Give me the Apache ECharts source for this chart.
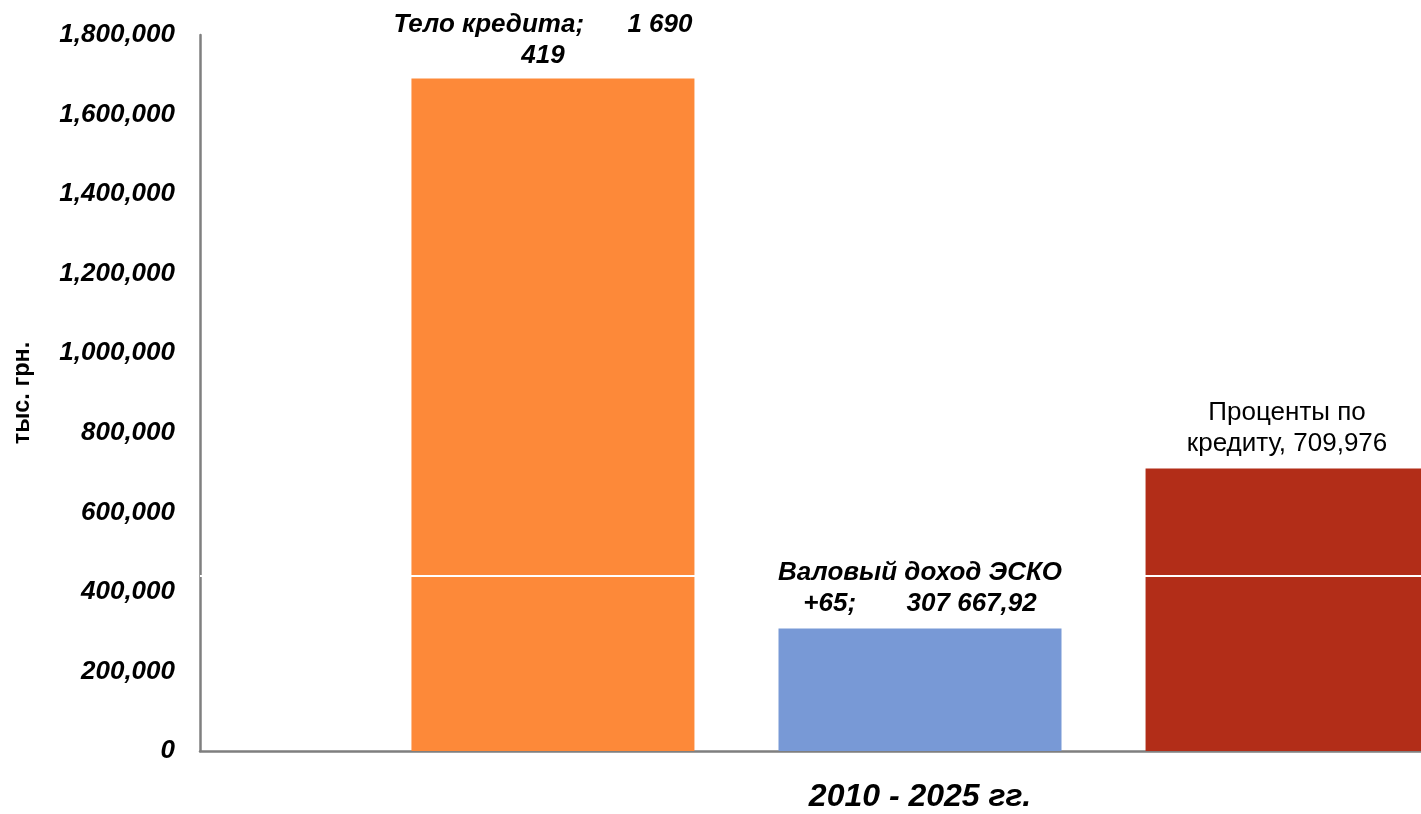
<!DOCTYPE html>
<html>
<head>
<meta charset="utf-8">
<script src="https://cdn.jsdelivr.net/npm/echarts@6/dist/echarts.min.js"></script>
<style>
html,body{margin:0;padding:0;background:#fff;}
#c{width:1421px;height:814px;}
</style>
</head>
<body>
<div id="c"></div>
<script>
const categories = ['2010 - 2025 гг.'];
const seriesNames = ['Тело кредита', 'Валовый доход ЭСКО +65', 'Проценты по кредиту'];
const seriesValues = [1690419, 307667.92, 709976];
const seriesLabels = ['Тело кредита;      1 690\n419', 'Валовый доход ЭСКО\n+65;       307 667,92', 'Проценты по\nкредиту, 709,976'];
const yTicks = [0, 200000, 400000, 600000, 800000, 1000000, 1200000, 1400000, 1600000, 1800000];
const whiteLineValue = 440000;

const colors = ['#FD8939', '#7899D6', '#B22D18'];
const labelStyles = [
  {fontWeight: 'bold', fontStyle: 'italic', offset: [-10, 2]},
  {fontWeight: 'bold', fontStyle: 'italic', offset: [0, 0]},
  {fontWeight: 'normal', fontStyle: 'normal', offset: [0, 0]}
];
const seriesZ = [2, 6, 2];
const FONT = '"Liberation Sans", Arial, sans-serif';

const chart = echarts.init(document.getElementById('c'), null, {renderer: 'canvas'});

function fmt(v){ return String(v).replace(/\B(?=(\d{3})+(?!\d))/g, ','); }

const series = seriesNames.map((n, i) => {
  const s = {
    name: n,
    type: 'bar',
    z: seriesZ[i],
    data: [seriesValues[i]],
    barWidth: 283,
    barGap: '29.7%',
    itemStyle: {color: colors[i]},
    label: {
      show: true,
      position: 'top',
      distance: 9,
      offset: labelStyles[i].offset,
      formatter: seriesLabels[i],
      color: '#000',
      fontFamily: FONT,
      fontSize: 26,
      lineHeight: 31,
      align: 'center',
      fontWeight: labelStyles[i].fontWeight,
      fontStyle: labelStyles[i].fontStyle
    }
  };
  if (i === 0) {
    s.markLine = {
      silent: true,
      symbol: 'none',
      z: 3,
      label: {show: false},
      lineStyle: {color: '#fff', width: 2, type: 'solid'},
      data: [{yAxis: whiteLineValue}]
    };
  }
  return s;
});

chart.setOption({
  animation: false,
  backgroundColor: '#fff',
  grid: {left: 200, right: -219, top: 35, bottom: 63, containLabel: false, outerBoundsMode: 'none'},
  xAxis: {
    type: 'category',
    data: categories,
    axisLine: {show: true, lineStyle: {color: '#7F7F7F', width: 2.5}},
    axisTick: {show: false},
    axisLabel: {
      fontFamily: FONT, fontSize: 32, fontWeight: 'bold', fontStyle: 'italic',
      color: '#000', margin: 30
    },
    splitLine: {show: false}
  },
  yAxis: {
    type: 'value',
    min: yTicks[0],
    max: yTicks[yTicks.length - 1],
    interval: yTicks[1] - yTicks[0],
    name: 'тыс. грн.',
    nameLocation: 'middle',
    nameGap: 165,
    nameTextStyle: {fontFamily: FONT, fontSize: 23.5, fontWeight: 'bold', color: '#000'},
    axisLine: {show: true, lineStyle: {color: '#7F7F7F', width: 2.5}},
    axisTick: {show: false},
    splitLine: {show: false},
    axisLabel: {
      fontFamily: FONT, fontSize: 26, fontWeight: 'bold', fontStyle: 'italic',
      color: '#000', margin: 25,
      formatter: v => fmt(v)
    }
  },
  series: series
});
</script>
</body>
</html>
